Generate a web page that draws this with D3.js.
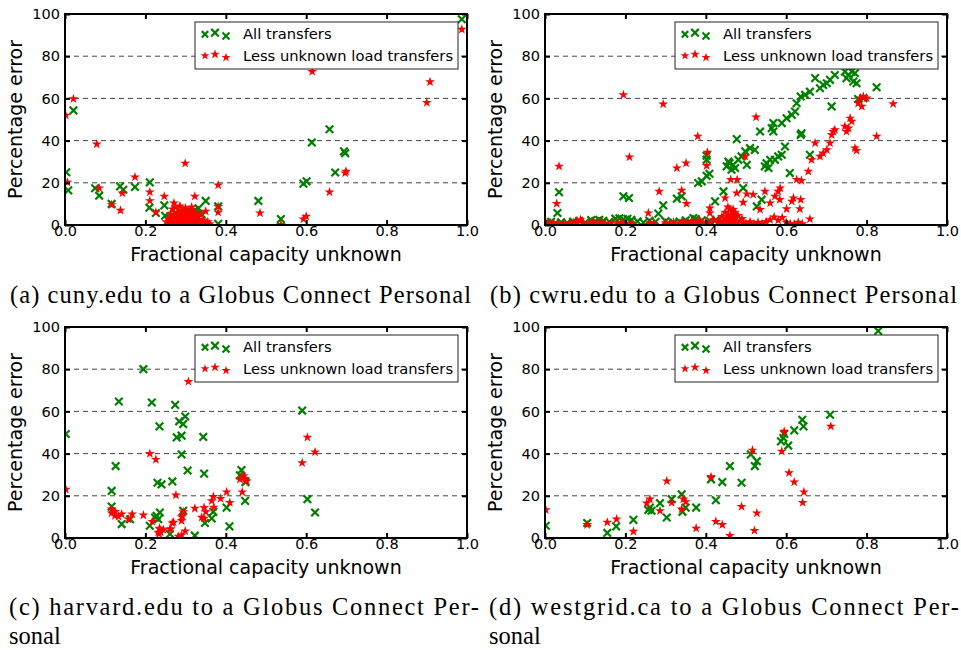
<!DOCTYPE html>
<html>
<head>
<meta charset="utf-8">
<script src="https://cdn.jsdelivr.net/npm/d3@7"></script>
<style>
  body { margin: 0; background: #fff; }
  svg { display: block; }
  .tick text { font-family: "DejaVu Sans", sans-serif; font-size: 14.5px; fill: #000; }
</style>
</head>
<body>
<svg id="chart" width="961" height="650"></svg>
<script>
// Tick values
const xTicks = [0, 0.2, 0.4, 0.6, 0.8, 1.0];
const yTicks = [0, 20, 40, 60, 80, 100];
const gridTicks = [20, 40, 60, 80];
const legendLabels = ['All transfers', 'Less unknown load transfers'];

// (a) cuny.edu
const aAll = [[0.987,97.5],[0.021,54.3],[0.003,25],[0.008,16.4],[0.075,17.4],[0.085,13.9],[0.116,10],[0.137,18.3],[0.145,16.7],[0.174,18],[0.211,20.2],[0.21,8.2],[0.226,5.7],[0.247,9.3],[0.249,4.4],[0.261,3.2],[0.27,4],[0.274,5.5],[0.286,6.3],[0.3,5],[0.307,7.1],[0.315,6],[0.323,7.1],[0.332,7.9],[0.34,5],[0.35,11.4],[0.381,8.8],[0.381,0.6],[0.481,11.4],[0.537,2.8],[0.593,19.6],[0.601,20.7],[0.614,39.1],[0.658,45.4],[0.672,24.9],[0.694,34.9],[0.697,34]];
const aLess = [[0.987,92.7],[0.002,52],[0.021,59.8],[0.006,20.2],[0.079,38.3],[0.085,17.5],[0.116,9.6],[0.138,6.9],[0.143,15.1],[0.174,22.7],[0.211,15.6],[0.211,11.5],[0.226,6],[0.247,13.6],[0.271,10.4],[0.299,29.2],[0.323,13.6],[0.35,6.5],[0.381,18.9],[0.381,8.7],[0.381,6],[0.485,5.7],[0.537,0.2],[0.615,72.7],[0.658,15.6],[0.593,2.8],[0.6,4.1],[0.697,24.6],[0.699,25.4],[0.9,58],[0.908,67.8],
  [0.252,1.5],[0.256,3],[0.26,0.8],[0.262,5.2],[0.265,2.2],[0.268,7.5],[0.27,1],[0.272,4],[0.275,8.5],[0.277,2.5],[0.28,6],[0.282,0.5],[0.284,3.5],[0.286,9],[0.288,1.8],[0.29,5],[0.292,7.2],[0.294,2.8],[0.296,0.6],[0.298,4.5],[0.3,8],[0.302,1.5],[0.304,6.2],[0.306,3.2],[0.308,0.8],[0.31,5.5],[0.312,2],[0.314,7],[0.316,4],[0.318,1],[0.32,3],[0.322,6],[0.325,1.8],[0.328,4.5],[0.33,0.6],[0.333,2.6],[0.336,5],[0.34,1.2],[0.345,2.2],[0.35,0.8],[0.355,1.5],[0.36,0.5],[0.27,3.6],[0.285,2],[0.295,6.8],[0.305,3.8],[0.315,8.5],[0.3,2.2],[0.29,0.4],[0.31,0.3]];

// (b) cwru.edu
const bAll = [[0.005,1.2],[0.015,1.5],[0.027,0.8],[0.04,1.3],[0.055,1],[0.07,1.6],[0.085,2],[0.1,1.1],[0.115,2.3],[0.125,1.8],[0.135,2.4],[0.145,2],[0.16,1.5],[0.175,3],[0.185,3.2],[0.195,2.7],[0.205,2.9],[0.215,2.4],[0.23,1.7],[0.245,1.2],[0.26,2],[0.275,1.5],[0.3,1.8],[0.32,1.2],[0.335,1.6],[0.35,2.2],[0.36,1.5],[0.375,2.8],[0.39,2.2],[0.41,1.8],[0.425,2.5],[0.44,1.6],[0.46,2],[0.47,1.5],
  [0.031,5.7],[0.035,15.5],[0.195,13.6],[0.209,12.8],[0.282,5.4],[0.294,9.3],[0.328,12.5],[0.34,13.6],[0.369,3.3],[0.381,19.9],[0.39,20.7],[0.402,23.3],[0.409,24.3],[0.402,30.9],[0.402,32.8],[0.423,11.2],[0.444,15.9],[0.452,27.8],[0.459,29.3],[0.464,26.2],[0.468,28.5],[0.473,27],[0.456,30.1],[0.477,40.7],[0.481,30.9],[0.489,32.5],[0.498,34.9],[0.502,28.5],[0.493,17.5],[0.51,36.4],[0.522,35.6],[0.535,44.3],[0.527,8.8],[0.539,12],[0.547,27.8],[0.551,29.3],[0.556,27],[0.56,30.9],[0.564,45.9],[0.568,44.3],[0.568,48.3],[0.572,30.9],[0.58,32.5],[0.589,33.3],[0.589,48.3],[0.601,50.6],[0.614,52.2],[0.622,53.8],[0.597,37.2],[0.609,24.6],[0.626,57.7],[0.636,60.9],[0.636,42.7],[0.638,43.5],[0.659,33.3],[0.647,61.7],[0.659,63.2],[0.672,69.6],[0.684,64.8],[0.692,66.4],[0.701,67.2],[0.709,68.8],[0.713,56.2],[0.721,71.1],[0.746,72.7],[0.75,69.6],[0.755,71.1],[0.763,72.7],[0.767,68],[0.771,71.9],[0.775,67.2],[0.779,59.7],[0.792,60.1],[0.825,65.3]];
const bLess = [[0.005,0.8],[0.012,0.4],[0.02,1],[0.03,0.5],[0.045,0.8],[0.06,0.5],[0.07,1.2],[0.08,1.8],[0.088,2.5],[0.095,1],[0.11,0.6],[0.12,1.5],[0.13,0.8],[0.14,1.2],[0.15,0.5],[0.165,1],[0.18,0.6],[0.19,1.2],[0.2,0.4],[0.215,0.8],[0.26,1],[0.27,0.5],[0.3,1],[0.31,0.6],[0.32,1.3],[0.335,0.8],[0.345,1.5],[0.355,0.5],[0.365,1.8],[0.375,1],[0.385,2.2],[0.39,0.6],[0.4,1.4],[0.41,0.8],[0.42,2.5],[0.43,1],
  [0.435,2],[0.44,4],[0.445,1],[0.448,6],[0.45,3],[0.452,0.5],[0.455,5],[0.458,2.5],[0.46,7.5],[0.462,1.5],[0.465,4.2],[0.468,0.8],[0.47,3.2],[0.472,6],[0.475,2],[0.478,0.6],[0.48,4.5],[0.485,1.8],[0.49,3],[0.495,0.8],[0.455,8.5],[0.465,6.5],[0.45,1.8],[0.47,5],[0.46,3.5],
  [0.5,0.8],[0.51,1.5],[0.52,0.5],[0.53,1.2],[0.54,0.6],[0.55,1.6],[0.56,2.5],[0.57,3.8],[0.58,2.2],[0.59,3.5],[0.6,1.2],[0.61,0.6],[0.62,0.4],[0.63,1.2],[0.64,0.5],
  [0.035,27.8],[0.029,10.1],[0.195,61.7],[0.21,32.2],[0.294,57.3],[0.257,5.7],[0.284,15.9],[0.328,27],[0.34,16.4],[0.351,29.3],[0.352,10.1],[0.38,42],[0.402,28.1],[0.404,34.4],[0.41,8],[0.41,5.7],[0.448,12.8],[0.462,21.5],[0.478,21.5],[0.477,15.1],[0.468,7.3],[0.493,10.7],[0.502,14.7],[0.498,32.5],[0.525,51.1],[0.518,14.4],[0.535,7.3],[0.547,15.9],[0.572,13.6],[0.58,15.9],[0.584,12],[0.585,17.5],[0.56,10.4],[0.601,7.6],[0.614,11.2],[0.618,12.8],[0.626,21.5],[0.638,21.1],[0.636,12],[0.634,7.6],[0.655,25.4],[0.659,2.8],[0.663,30.9],[0.672,38.8],[0.684,32.5],[0.692,34.1],[0.701,35.6],[0.709,38.8],[0.713,42.7],[0.717,44.3],[0.721,45.1],[0.746,46.7],[0.75,44.3],[0.755,45.9],[0.759,50.6],[0.763,49.1],[0.771,36.4],[0.775,35.3],[0.779,57.7],[0.784,60.1],[0.792,60.9],[0.788,56.2],[0.8,60.1],[0.825,42],[0.866,57.4]];

// (c) harvard.edu
const cAll = [[0.002,49.3],[0.195,80],[0.134,64.7],[0.126,34.1],[0.116,22.3],[0.116,14.9],[0.141,6.6],[0.162,8.9],[0.216,64.2],[0.235,52.9],[0.23,26.2],[0.24,25.4],[0.211,5.8],[0.224,9.7],[0.236,12.1],[0.232,8.9],[0.228,10.5],[0.267,26.8],[0.274,63.1],[0.284,55.3],[0.299,57.6],[0.294,54],[0.278,47.7],[0.29,48.5],[0.29,39.6],[0.305,32],[0.261,1.9],[0.294,12.9],[0.323,1.1],[0.344,47.9],[0.346,30.5],[0.348,7.1],[0.369,12.4],[0.365,9.3],[0.402,14.4],[0.409,5.5],[0.439,32.2],[0.435,29.7],[0.449,26.5],[0.448,17.6],[0.59,60.4],[0.603,18.4],[0.622,12.1]];
const cLess = [[0.002,23],[0.307,74.1],[0.211,40],[0.226,37.2],[0.276,20.3],[0.116,13.7],[0.116,11.8],[0.124,10.5],[0.133,10.2],[0.141,11.3],[0.158,8.9],[0.167,11.3],[0.195,10.8],[0.217,7.8],[0.235,4.6],[0.238,2.7],[0.234,1.9],[0.245,3.9],[0.263,4.2],[0.267,7.1],[0.282,0.8],[0.29,1.4],[0.29,8.2],[0.294,12.4],[0.292,10.5],[0.299,3.3],[0.323,14],[0.346,14.4],[0.346,9.3],[0.35,12.4],[0.365,17.6],[0.369,19.6],[0.387,18.7],[0.402,21.8],[0.41,16.8],[0.441,21.8],[0.435,27.8],[0.444,29.4],[0.448,28.1],[0.452,27],[0.59,35.6],[0.603,47.7],[0.622,40.7],[0.27,7.4],[0.29,10],[0.236,4.2],[0.232,2.7],[0.261,4.2],[0.125,12.5],[0.34,9.8],[0.37,14.5]];

// (d) westgrid.ca
const dAll = [[0.829,98.1],[0.002,5.8],[0.105,7.1],[0.155,2.4],[0.177,5.5],[0.22,8.6],[0.257,13.3],[0.261,14.4],[0.265,12.9],[0.286,16.5],[0.303,9.7],[0.315,18.4],[0.34,20.7],[0.342,12.4],[0.35,14.4],[0.376,14.4],[0.413,27.8],[0.425,17.9],[0.441,26.5],[0.46,34.1],[0.489,26.2],[0.512,39.6],[0.522,34.1],[0.527,36.4],[0.587,45.8],[0.593,47.4],[0.595,49.3],[0.605,43.8],[0.62,51],[0.64,56],[0.643,52.9],[0.709,58.4]];
const dLess = [[0.002,13.3],[0.105,6.3],[0.155,7.4],[0.178,8.9],[0.22,3.1],[0.253,16.5],[0.261,18.4],[0.286,12.9],[0.303,27],[0.315,16.8],[0.34,13.7],[0.344,18.4],[0.35,17.1],[0.376,4.6],[0.413,29],[0.425,7.8],[0.441,6.3],[0.46,1.1],[0.489,14.9],[0.516,41.6],[0.521,3.5],[0.527,11.8],[0.589,41.1],[0.595,50.5],[0.607,30.9],[0.62,26.5],[0.641,16.8],[0.644,21.8],[0.711,52.9]];

const captions = [
  ['(a) cuny.edu to a Globus Connect Personal'],
  ['(b) cwru.edu to a Globus Connect Personal'],
  ['(c) harvard.edu to a Globus Connect Per-', 'sonal'],
  ['(d) westgrid.ca to a Globus Connect Per-', 'sonal']
];

const GREEN = '#008000';
const RED = '#ff0000';
const W = 402, H = 211;

const panels = [
  { all: aAll, less: aLess, left: 65, top: 14, capX: 10, capW: 461, capY: 303 },
  { all: bAll, less: bLess, left: 545, top: 14, capX: 490, capW: 467, capY: 303 },
  { all: cAll, less: cLess, left: 65, top: 327, capX: 9, capW: 470, capY: 615 },
  { all: dAll, less: dLess, left: 545, top: 327, capX: 489, capW: 470, capY: 615 }
];

const svg = d3.select('#chart');
const x = d3.scaleLinear().domain([0, 1]).range([0, W]);
const y = d3.scaleLinear().domain([0, 100]).range([H, 0]);
const star = d3.symbol().type(d3.symbolStar).size(30);

function drawCross(sel, s) {
  sel.append('path')
    .attr('d', `M${-s},${-s}L${s},${s}M${-s},${s}L${s},${-s}`)
    .attr('stroke', GREEN)
    .attr('stroke-width', 2.2)
    .attr('fill', 'none');
}

panels.forEach((p, i) => {
  const g = svg.append('g').attr('transform', `translate(${p.left},${p.top})`);

  // clip
  svg.append('clipPath').attr('id', 'clip' + i)
    .append('rect').attr('width', W).attr('height', H);

  // grid
  g.selectAll('.grid').data(gridTicks).enter().append('line')
    .attr('x1', 0).attr('x2', W)
    .attr('y1', d => y(d)).attr('y2', d => y(d))
    .attr('stroke', '#444').attr('stroke-width', 1)
    .attr('stroke-dasharray', '5,4');

  // points
  const pts = g.append('g').attr('clip-path', `url(#clip${i})`);
  pts.selectAll('.all').data(p.all).enter().append('g')
    .attr('transform', d => `translate(${x(d[0])},${y(d[1])})`)
    .each(function() { drawCross(d3.select(this), 3.8); });
  pts.selectAll('.less').data(p.less).enter().append('path')
    .attr('transform', d => `translate(${x(d[0])},${y(d[1])})`)
    .attr('d', star)
    .attr('fill', RED);

  // axes, inward ticks
  const ax = [
    g.append('g').attr('transform', `translate(0,${H})`)
      .call(d3.axisBottom(x).tickValues(xTicks).tickSize(-5).tickPadding(0.5).tickFormat(d3.format('.1f'))),
    g.append('g')
      .call(d3.axisTop(x).tickValues(xTicks).tickSize(-5).tickFormat('')),
    g.append('g')
      .call(d3.axisLeft(y).tickValues(yTicks).tickSize(-5).tickPadding(5)),
    g.append('g').attr('transform', `translate(${W},0)`)
      .call(d3.axisRight(y).tickValues(yTicks).tickSize(-5).tickFormat(''))
  ];
  ax.forEach(a => {
    a.select('.domain').remove();
    a.selectAll('.tick line').attr('stroke', '#000').attr('stroke-width', 2);
  });

  g.append('rect').attr('width', W).attr('height', H)
    .attr('fill', 'none').attr('stroke', '#000').attr('stroke-width', 2);

  // axis labels
  g.append('text')
    .attr('x', W / 2).attr('y', H + 36)
    .attr('text-anchor', 'middle')
    .attr('font-family', 'DejaVu Sans, sans-serif').attr('font-size', 19)
    .text('Fractional capacity unknown');
  g.append('text')
    .attr('transform', `translate(-43,${H / 2}) rotate(-90)`)
    .attr('text-anchor', 'middle')
    .attr('font-family', 'DejaVu Sans, sans-serif').attr('font-size', 19)
    .text('Percentage error');

  // legend
  const lg = g.append('g').attr('transform', 'translate(130,8)');
  lg.append('rect').attr('width', 263).attr('height', 47)
    .attr('fill', '#fff').attr('stroke', '#222').attr('stroke-width', 1);
  const offs = [[10, 12.3, 3.2], [20, 10.7, 3.8], [31, 14, 3.5]];
  offs.forEach(o => {
    lg.append('g').attr('transform', `translate(${o[0]},${o[1]})`)
      .call(s => drawCross(s, o[2]));
    lg.append('path').attr('transform', `translate(${o[0]},${o[1] + 21.5})`)
      .attr('d', d3.symbol().type(d3.symbolStar).size(o[2] * 7.5)).attr('fill', RED);
  });
  legendLabels.forEach((t, k) => {
    lg.append('text')
      .attr('x', 48).attr('y', 12 + k * 21.5).attr('dy', '0.35em')
      .attr('font-family', 'DejaVu Sans, sans-serif').attr('font-size', 14.7)
      .text(t);
  });

  // caption
  captions[i].forEach((line, k) => {
    const t = svg.append('text')
      .attr('x', p.capX).attr('y', p.capY + k * 29)
      .attr('font-family', 'Liberation Serif, serif').attr('font-size', 24.5)
      .text(line);
    if (k === 0) t.attr('textLength', p.capW).attr('lengthAdjust', 'spacing');
  });
});
</script>
</body>
</html>
